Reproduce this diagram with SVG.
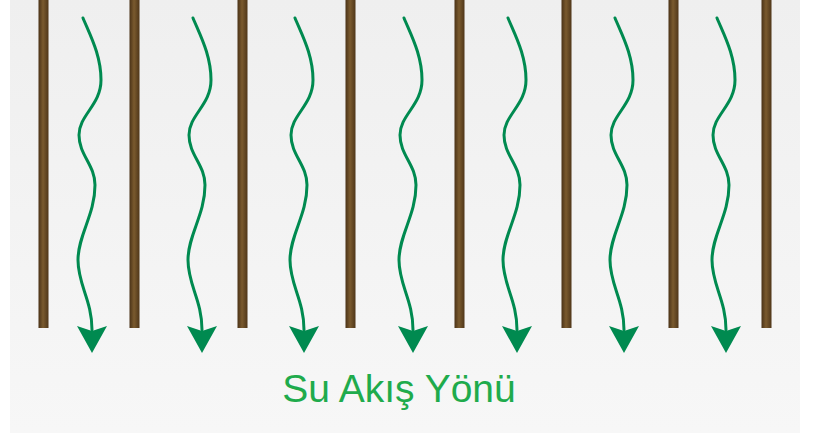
<svg xmlns="http://www.w3.org/2000/svg" width="821" height="437" viewBox="0 0 821 437">
<defs>
<linearGradient id="wood" x1="0" y1="0" x2="1" y2="0">
<stop offset="0" stop-color="#4a3217"/>
<stop offset="0.45" stop-color="#7a5a2e"/>
<stop offset="1" stop-color="#4f3619"/>
</linearGradient>
<linearGradient id="bg" x1="0" y1="0" x2="0" y2="1">
<stop offset="0" stop-color="#efefef"/>
<stop offset="0.75" stop-color="#f5f5f5"/>
<stop offset="1" stop-color="#f7f7f7"/>
</linearGradient>
<g id="wave">
<path d="M -9,18 C -2,35 9,55 9,80 C 9,105 -13,115 -13,135 C -13,155 3,165 3,185 C 3,215 -14,235 -14,260 C -14,285 0,300 0,330" fill="none" stroke="#008a50" stroke-width="3" stroke-linecap="round"/>
<polygon points="-15,326 0,331 15,326 0,353" fill="#008a50"/>
</g>
</defs>
<style>
.bar{fill:url(#wood)}
.lbl{font-family:"Liberation Sans",Arial,sans-serif;font-size:39px;fill:#1fab4c}
</style>
<rect width="821" height="437" fill="#ffffff"/>
<rect x="10" y="0" width="790" height="433" fill="url(#bg)"/>
<g id="bars">
<rect class="bar" x="38.5" y="0" width="10" height="328"/>
<rect class="bar" x="129.5" y="0" width="10" height="328"/>
<rect class="bar" x="237.5" y="0" width="10" height="328"/>
<rect class="bar" x="345.5" y="0" width="10" height="328"/>
<rect class="bar" x="454.5" y="0" width="10" height="328"/>
<rect class="bar" x="561.5" y="0" width="10" height="328"/>
<rect class="bar" x="668.5" y="0" width="10" height="328"/>
<rect class="bar" x="761.5" y="0" width="10" height="328"/>
</g>
<g id="connectors">
<use href="#wave" transform="translate(92,0)"/>
<use href="#wave" transform="translate(202,0)"/>
<use href="#wave" transform="translate(304,0)"/>
<use href="#wave" transform="translate(413,0)"/>
<use href="#wave" transform="translate(517,0)"/>
<use href="#wave" transform="translate(624,0)"/>
<use href="#wave" transform="translate(726,0)"/>
</g>
<g id="label">
<text class="lbl" x="399" y="402" text-anchor="middle">Su Akış Yönü</text>
</g>
</svg>
